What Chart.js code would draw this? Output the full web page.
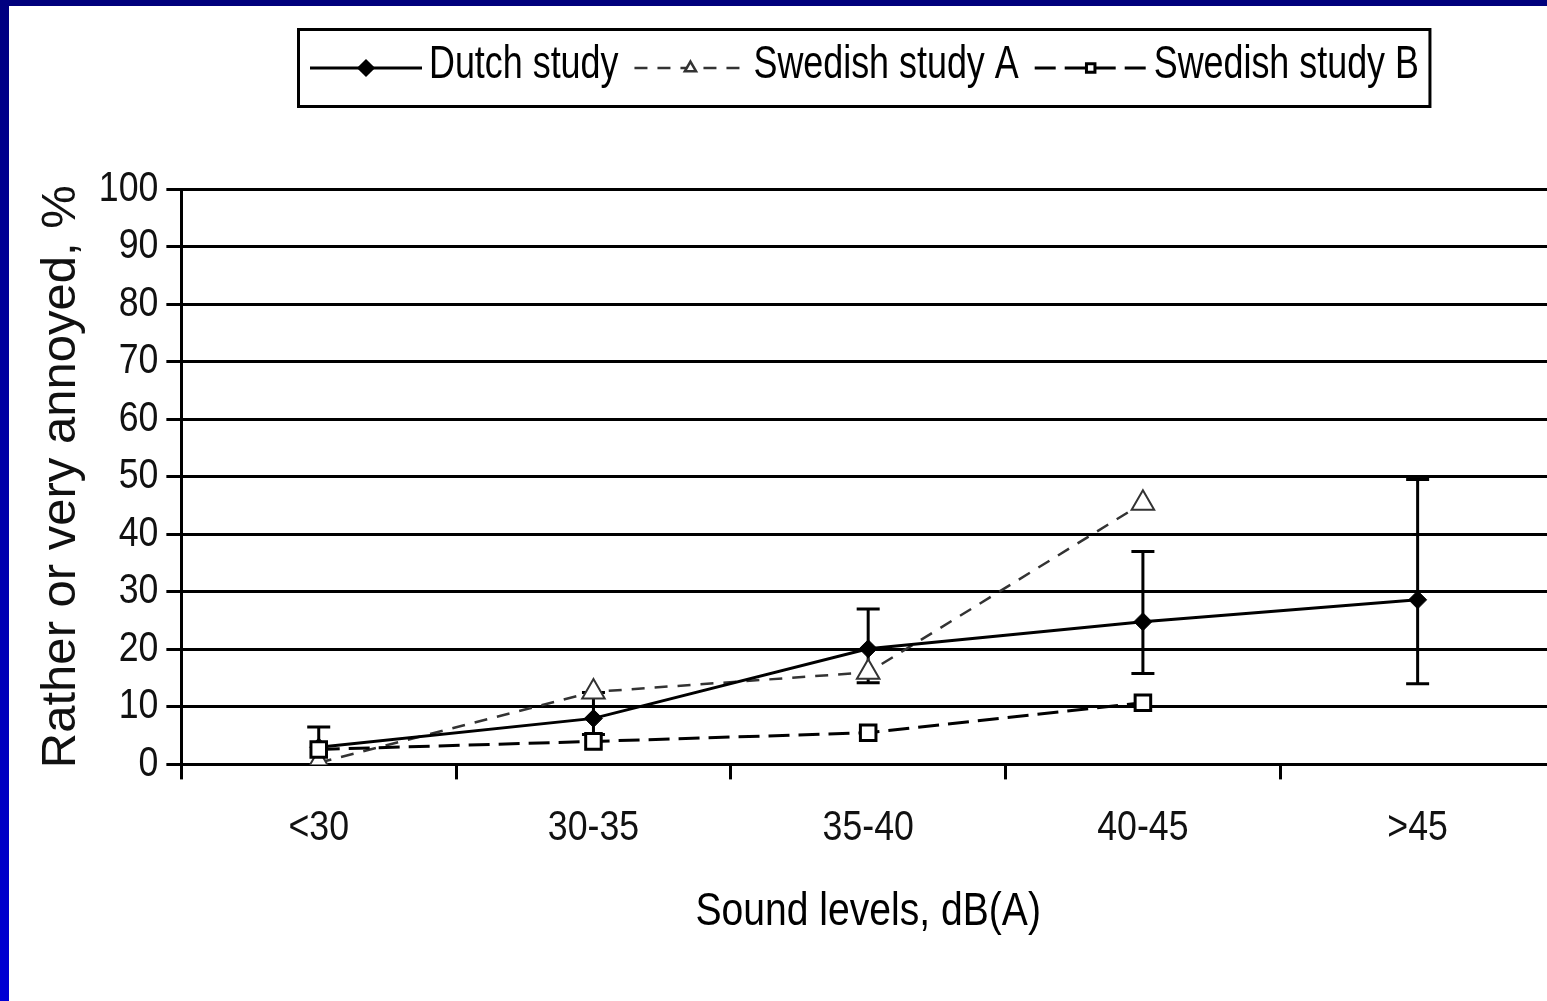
<!DOCTYPE html>
<html>
<head>
<meta charset="utf-8">
<script src="https://cdn.jsdelivr.net/npm/chart.js@4.4.1/dist/chart.umd.min.js"></script>
<style>
  html, body { margin: 0; padding: 0; background: #fff; overflow: hidden; width: 1547px; height: 1001px; }
  #wrap { position: absolute; left: 0; top: 0; width: 1570px; height: 1001px; }
  #frameTop { position: absolute; left: 0; top: 0; width: 1547px; height: 6px; background: #00007c; }
  #frameLeft { position: absolute; left: 0; top: 0; width: 9px; height: 1001px; background: linear-gradient(#000080, #0000d4); }
</style>
</head>
<body>
<div id="wrap"><canvas id="c" width="1570" height="1001"></canvas></div>
<div id="frameTop"></div>
<div id="frameLeft"></div>
<script>
// Sound level bands, dB(A)
const categories = ['<30', '30-35', '35-40', '40-45', '>45'];

// Share rather or very annoyed, %
const dutchStudy = [3, 8, 20.1, 24.8, 28.6];
const dutchLow   = [0, 5.2, 14.2, 15.8, 14];
const dutchHigh  = [6.5, 12.5, 27, 37, 49.5];
const swedishA   = [0.3, 12.6, 16, 45.4, null];
const swedishB   = [2.6, 4, 5.5, 10.7, null];

const seriesNames = ['Dutch study', 'Swedish study A', 'Swedish study B'];

// Narrow lettering: no condensed face is installed, so text set in the
// plain family list is squeezed horizontally; the Arial list stays as is.
const NARROW_FAMILY = '"Liberation Sans", sans-serif';
const PLAIN_FAMILY = '"Liberation Sans", Arial, sans-serif';
const NARROW = 0.85;

const canvas = document.getElementById('c');
const ctx2d = canvas.getContext('2d');
const baseFill = ctx2d.fillText.bind(ctx2d);
const baseMeasure = ctx2d.measureText.bind(ctx2d);
function squeezeOf(c) {
  if (c.font.includes('Arial')) return 1;
  return c.__squeeze || NARROW;
}
ctx2d.fillText = function (text, x, y, maxWidth) {
  const s = squeezeOf(this);
  if (s === 1) return baseFill(text, x, y, maxWidth);
  this.save();
  this.translate(x, y);
  this.scale(s, 1);
  baseFill(text, 0, 0);
  this.restore();
};
ctx2d.measureText = function (text) {
  const m = baseMeasure(text);
  const s = squeezeOf(this);
  return {
    width: m.width * s,
    actualBoundingBoxAscent: m.actualBoundingBoxAscent,
    actualBoundingBoxDescent: m.actualBoundingBoxDescent,
    actualBoundingBoxLeft: m.actualBoundingBoxLeft * s,
    actualBoundingBoxRight: m.actualBoundingBoxRight * s
  };
};

const tickFont = { family: NARROW_FAMILY, size: 42 };

// Confidence intervals for the Dutch study, drawn under the markers
const errorBars = {
  id: 'errorBars',
  beforeDatasetsDraw(chart) {
    const { ctx, scales: { x, y } } = chart;
    ctx.save();
    ctx.strokeStyle = '#000';
    ctx.lineWidth = 3;
    const cap = 11.5;
    dutchStudy.forEach((v, i) => {
      if (v == null) return;
      const px = x.getPixelForValue(i);
      const yl = y.getPixelForValue(dutchLow[i]);
      const yh = y.getPixelForValue(dutchHigh[i]);
      ctx.beginPath();
      ctx.moveTo(px, yl); ctx.lineTo(px, yh);
      ctx.moveTo(px - cap, yh); ctx.lineTo(px + cap, yh);
      ctx.moveTo(px - cap, yl); ctx.lineTo(px + cap, yl);
      ctx.stroke();
    });
    ctx.restore();
  }
};

// Framed one-row legend: line sample with marker, then label
const boxLegend = {
  id: 'boxLegend',
  afterDraw(chart) {
    const ctx = chart.ctx;
    const sets = chart.data.datasets;
    const markerSize = [7, 6.5, 6];
    const cy = 68;
    const sample = 112;
    ctx.save();
    ctx.font = '46px ' + NARROW_FAMILY;
    ctx.__squeeze = 0.78;
    ctx.textBaseline = 'alphabetic';
    ctx.textAlign = 'left';
    let xPos = 310;
    sets.forEach((ds, i) => {
      ctx.save();
      ctx.strokeStyle = ds.borderColor;
      ctx.lineWidth = ds.borderWidth;
      ctx.setLineDash(ds.borderDash || []);
      ctx.beginPath();
      ctx.moveTo(xPos, cy); ctx.lineTo(xPos + sample, cy);
      ctx.stroke();
      ctx.setLineDash([]);
      ctx.fillStyle = ds.pointBackgroundColor;
      ctx.strokeStyle = ds.pointBorderColor;
      Chart.helpers.drawPoint(ctx, {
        pointStyle: ds.pointStyle, rotation: 0, radius: markerSize[i],
        borderWidth: Math.min(ds.pointBorderWidth, 2)
      }, xPos + sample / 2, cy);
      ctx.restore();
      xPos += sample + 7;
      const w = ctx.measureText(ds.label).width;
      ctx.fillStyle = '#000';
      ctx.fillText(ds.label, xPos, 78);
      xPos += w + 16;
    });
    ctx.__squeeze = 0;
    ctx.lineWidth = 3;
    ctx.strokeStyle = '#000';
    ctx.strokeRect(298.5, 29.5, xPos - 16 + 11 - 298.5, 77);
    ctx.restore();
  }
};

new Chart(ctx2d, {
  type: 'line',
  data: {
    labels: categories,
    datasets: [
      {
        label: seriesNames[0], data: dutchStudy, order: 1,
        borderColor: '#000', borderWidth: 3, borderDash: [],
        pointStyle: 'rectRot', pointRadius: 9,
        pointBackgroundColor: '#000', pointBorderColor: '#000', pointBorderWidth: 1
      },
      {
        label: seriesNames[1], data: swedishA, order: 2,
        borderColor: '#333', borderWidth: 2.5, borderDash: [13, 10],
        pointStyle: 'triangle', pointRadius: 13,
        pointBackgroundColor: '#fff', pointBorderColor: '#333', pointBorderWidth: 2
      },
      {
        label: seriesNames[2], data: swedishB, order: 0,
        borderColor: '#000', borderWidth: 3, borderDash: [21, 9],
        pointStyle: 'rect', pointRadius: 11,
        pointBackgroundColor: '#fff', pointBorderColor: '#000', pointBorderWidth: 3
      }
    ]
  },
  options: {
    responsive: false,
    animation: false,
    devicePixelRatio: 1,
    spanGaps: false,
    layout: { padding: { top: 189, right: 13, left: 0, bottom: 0 } },
    plugins: { legend: { display: false }, tooltip: { enabled: false } },
    elements: { line: { tension: 0, fill: false } },
    scales: {
      x: {
        offset: true,
        grid: { offset: true, drawOnChartArea: false, drawTicks: true, tickLength: 15, color: '#000', lineWidth: 3 },
        border: { display: true, color: '#000', width: 3 },
        ticks: { color: '#111', font: tickFont, padding: 24, maxRotation: 0 },
        title: {
          display: true, text: 'Sound levels, dB(A)', color: '#000',
          font: { family: NARROW_FAMILY, size: 46 },
          padding: { top: 7, bottom: 61 }
        }
      },
      y: {
        min: 0, max: 100,
        ticks: { stepSize: 10, color: '#111', font: tickFont, padding: 8 },
        grid: { color: '#000', lineWidth: 3, tickLength: 15, drawTicks: true },
        border: { display: true, color: '#000', width: 3 },
        title: {
          display: true, text: 'Rather or very annoyed, %', color: '#111',
          font: { family: PLAIN_FAMILY, size: 49 },
          padding: { top: 32, bottom: 0 }
        }
      }
    }
  },
  plugins: [errorBars, boxLegend]
});
</script>
</body>
</html>
